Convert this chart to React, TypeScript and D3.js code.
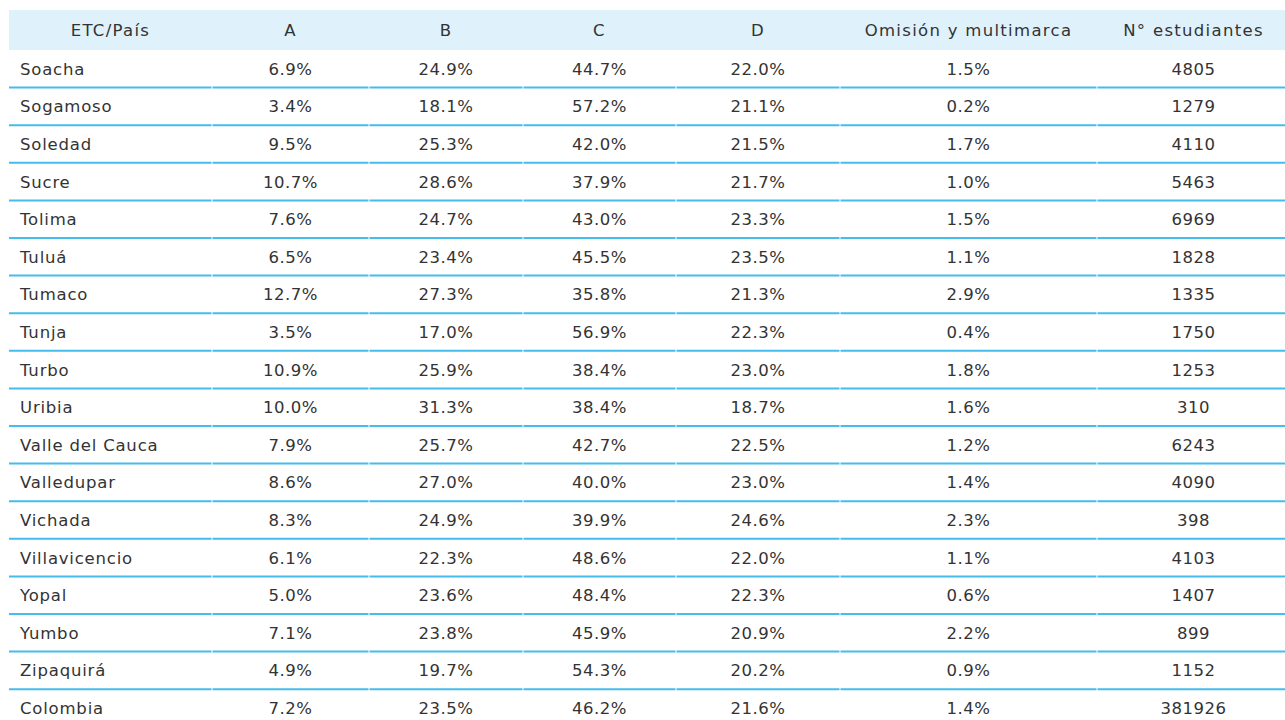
import * as d3 from "d3";
import { useEffect, useRef } from "react";

const headers = ["ETC/País", "A", "B", "C", "D", "Omisión y multimarca", "N° estudiantes"];

const etcs = [
  "Soacha", "Sogamoso", "Soledad", "Sucre", "Tolima", "Tuluá", "Tumaco", "Tunja", "Turbo",
  "Uribia", "Valle del Cauca", "Valledupar", "Vichada", "Villavicencio", "Yopal", "Yumbo",
  "Zipaquirá", "Colombia",
];
const valA = [6.9, 3.4, 9.5, 10.7, 7.6, 6.5, 12.7, 3.5, 10.9, 10.0, 7.9, 8.6, 8.3, 6.1, 5.0, 7.1, 4.9, 7.2];
const valB = [24.9, 18.1, 25.3, 28.6, 24.7, 23.4, 27.3, 17.0, 25.9, 31.3, 25.7, 27.0, 24.9, 22.3, 23.6, 23.8, 19.7, 23.5];
const valC = [44.7, 57.2, 42.0, 37.9, 43.0, 45.5, 35.8, 56.9, 38.4, 38.4, 42.7, 40.0, 39.9, 48.6, 48.4, 45.9, 54.3, 46.2];
const valD = [22.0, 21.1, 21.5, 21.7, 23.3, 23.5, 21.3, 22.3, 23.0, 18.7, 22.5, 23.0, 24.6, 22.0, 22.3, 20.9, 20.2, 21.6];
const omision = [1.5, 0.2, 1.7, 1.0, 1.5, 1.1, 2.9, 0.4, 1.8, 1.6, 1.2, 1.4, 2.3, 1.1, 0.6, 2.2, 0.9, 1.4];
const estudiantes = [4805, 1279, 4110, 5463, 6969, 1828, 1335, 1750, 1253, 310, 6243, 4090, 398, 4103, 1407, 899, 1152, 381926];

// column edges
const colEdges = [9, 212, 369, 523, 676, 840, 1097, 1290];

const W = 1285;
const H = 720;
const headerTop = 10;
const headerH = 40;
const rowH = 37.6;

export default function App() {
  const ref = useRef<SVGSVGElement>(null);

  useEffect(() => {
    const svg = d3.select(ref.current);
    svg.selectAll("*").remove();

    const pct = (v: number) => v.toFixed(1) + "%";
    const rows = etcs.map((name, i) => [
      name, pct(valA[i]), pct(valB[i]), pct(valC[i]), pct(valD[i]), pct(omision[i]), String(estudiantes[i]),
    ]);

    const y = d3.scaleBand<number>()
      .domain(d3.range(rows.length))
      .range([headerTop + headerH, headerTop + headerH + rowH * rows.length])
      .padding(0);

    const font = "'DejaVu Sans', sans-serif";
    const fg = "#333";
    const size = 16.5;

    svg.append("rect")
      .attr("x", colEdges[0])
      .attr("y", headerTop)
      .attr("width", W - colEdges[0])
      .attr("height", headerH)
      .attr("fill", "#dff1fb");

    svg.append("g")
      .selectAll("text")
      .data(headers)
      .join("text")
      .attr("x", (_, j) => (colEdges[j] + colEdges[j + 1]) / 2)
      .attr("y", headerTop + headerH / 2)
      .attr("dy", "0.36em")
      .attr("text-anchor", "middle")
      .attr("font-family", font)
      .attr("font-size", size)
      .attr("letter-spacing", 1.3)
      .attr("fill", fg)
      .text(d => d);

    // divider lines, drawn per cell so the tiny gaps between columns show
    const lines = svg.append("g");
    for (let i = 0; i < rows.length - 1; i++) {
      const ly = (y(i) as number) + rowH;
      for (let j = 0; j < headers.length; j++) {
        lines.append("line")
          .attr("x1", colEdges[j] + (j === 0 ? 0 : 0.5))
          .attr("x2", colEdges[j + 1] - 0.5)
          .attr("y1", ly)
          .attr("y2", ly)
          .attr("stroke", "#45bdec")
          .attr("stroke-width", 2);
      }
    }

    const body = svg.append("g");
    rows.forEach((r, i) => {
      body.selectAll(null)
        .data(r)
        .enter()
        .append("text")
        .attr("x", (_, j) => (j === 0 ? colEdges[0] + 11 : (colEdges[j] + colEdges[j + 1]) / 2))
        .attr("y", (y(i) as number) + rowH / 2)
        .attr("dy", "0.36em")
        .attr("text-anchor", (_, j) => (j === 0 ? "start" : "middle"))
        .attr("font-family", font)
        .attr("font-size", size)
        .attr("letter-spacing", (_, j) => (j === 0 ? 0.8 : 0.5))
        .attr("fill", fg)
        .text(d => d);
    });
  }, []);

  return (
    <svg
      ref={ref}
      width={W}
      height={H}
      style={{ position: "fixed", left: 0, top: 0, background: "#fff" }}
    />
  );
}
